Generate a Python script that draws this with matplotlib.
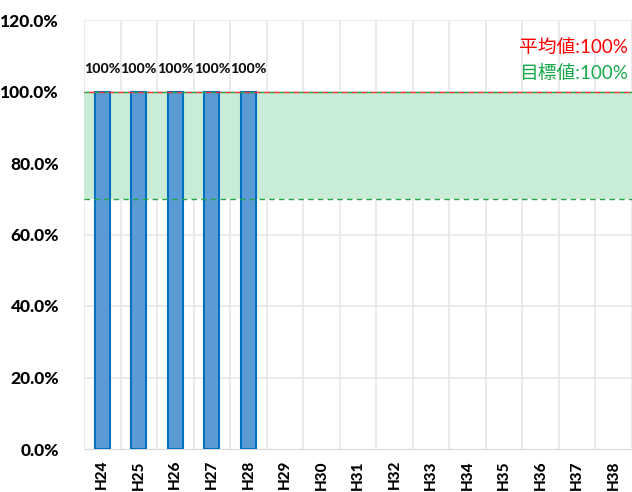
import matplotlib
matplotlib.use("Agg")
import matplotlib.pyplot as plt
import numpy as np

categories = ["H24", "H25", "H26", "H27", "H28", "H29", "H30", "H31",
              "H32", "H33", "H34", "H35", "H36", "H37", "H38"]
values = [100, 100, 100, 100, 100]
bar_labels = ["100%", "100%", "100%", "100%", "100%"]
target_low = 70
target_high = 100
average = 100
yticks = [0, 20, 40, 60, 80, 100, 120]
avg_text = "平均値:100%"
target_text = "目標値:100%"

plt.rcParams['font.family'] = ['Lato', 'Noto Sans CJK JP', 'DejaVu Sans']

fig = plt.figure(figsize=(6.32, 4.92), dpi=100)
ax = fig.add_axes([84/632, 1 - 449/492, 548/632, (449 - 20)/492])

n = len(categories)
x = np.arange(n)
ax.set_xlim(-0.5, n - 0.5)
ax.set_ylim(0, 120)

# target band
ax.axhspan(target_low, target_high, color="#C9ECD7", zorder=1, lw=0)
ax.axhline(target_low, color="#22A84A", ls=(0, (4, 3)), lw=1.0, zorder=3)
ax.axhline(target_high, color="#22A84A", ls=(0, (4, 3)), lw=1.0, zorder=3)
ax.axhline(average, color="#FF3333", ls=(3.5, (4, 3)), lw=1.0, zorder=3)

# gridlines
for b in np.arange(-0.5, n, 1.0):
    ax.axvline(b, color="#E8E8E8", lw=1.2, zorder=0.5)
for t in yticks[1:]:
    ax.axhline(t, color="#E8E8E8", lw=1.2, zorder=0.5)

bars = ax.bar(x[:len(values)], values, width=0.41, color="#5B9BD5",
              edgecolor="#0070C0", linewidth=1.5, zorder=2)
for xi, v, lab in zip(x, values, bar_labels):
    ax.text(xi, v + 4.5, lab, ha="center", va="bottom", fontsize=10.2,
            fontweight="black", color="#111111", zorder=4)

ax.set_yticks(yticks)
ax.set_yticklabels([f"{t:.1f}%" for t in yticks], fontsize=12.5, fontweight="black")
ax.set_xticks(x)
ax.set_xticklabels(categories, rotation=90, fontsize=11, fontweight="black")
ax.tick_params(length=0, pad=8)
ax.tick_params(axis="y", pad=18)

for s in ["top", "right", "left"]:
    ax.spines[s].set_visible(False)
ax.spines["bottom"].set_color("#D9D9D9")
ax.spines["bottom"].set_zorder(0.6)

fig.text(628/632, 1 - 47/492, avg_text, ha="right", va="center",
         fontsize=13.5, color="#FF0000")
fig.text(628/632, 1 - 73/492, target_text, ha="right", va="center",
         fontsize=13.5, color="#17A84A")

fig.savefig("out.png", dpi=100)
